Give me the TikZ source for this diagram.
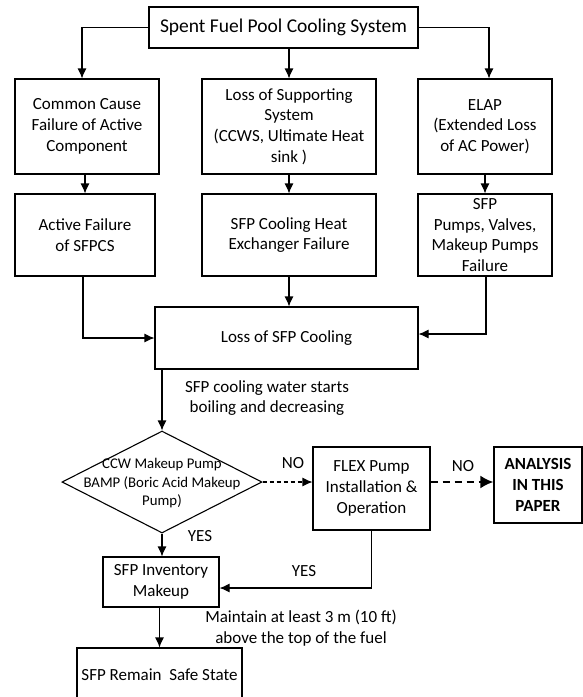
\documentclass[tikz,border=0pt]{standalone}
\usepackage{fontspec}
\setmainfont{Carlito}
\usetikzlibrary{arrows.meta,shapes.geometric}

\begin{document}
\begin{tikzpicture}
	[x=1pt,y=-1pt,line width=1.1pt,>={Latex[length=10pt,width=9pt]},
	 font=\fontsize{17}{20.7}\selectfont,
	 box/.style={draw,rectangle,align=center,inner sep=2pt},
	 dia/.style={draw,diamond,minimum width=200pt,minimum height=102pt,inner sep=0pt},
	 dtext/.style={font=\fontsize{14.8}{18.5}\selectfont,align=center}]
	\clip (0,0) rectangle (583,697);
	\node[box, minimum width=269pt, minimum height=41pt, font=\fontsize{19.5}{22}\selectfont] (top) at (283.5,27.5) {Spent Fuel Pool Cooling System};
	\node[box, minimum width=144pt, minimum height=95pt] (ccf) at (87,126.5) {Common Cause\\Failure of Active\\Component};
	\node[box, minimum width=174pt, minimum height=95pt] (sup) at (289,126.5) {Loss of Supporting\\System\\(CCWS, Ultimate Heat\\sink )};
	\node[box, minimum width=134pt, minimum height=95pt] (elap) at (485,126.5) {ELAP\\(Extended Loss\\of AC Power)};
	\node[box, minimum width=140pt, minimum height=82pt] (act) at (85,235) {Active Failure\\of SFPCS};
	\node[box, minimum width=174pt, minimum height=82pt] (hx) at (289,235) {SFP Cooling Heat\\Exchanger Failure};
	\node[box, minimum width=134pt, minimum height=82pt] (pumps) at (485,235) {SFP\\Pumps, Valves,\\Makeup Pumps\\Failure};
	\node[box, minimum width=263pt, minimum height=62pt] (loss) at (286.5,338) {Loss of SFP Cooling};
	\node (boil) at (267,398) [align=center] {SFP cooling water starts\\boiling and decreasing};
	\node[dia] (dmd) at (162,482) {};
	\node[dtext] (dmdtxt) at (162,483.5) {CCW Makeup Pump\\BAMP (Boric Acid Makeup\\Pump)};
	\node[box, minimum width=117pt, minimum height=83pt] (flex) at (371.5,488.5) {FLEX Pump\\Installation \&\\Operation};
	\node[box, minimum width=88pt, minimum height=76pt, font=\fontsize{17}{20.7}\selectfont\bfseries] (ana) at (538,485) {ANALYSIS\\IN THIS\\PAPER};
	\node[box, minimum width=116pt, minimum height=50pt] (inv) at (161,582) {SFP Inventory\\Makeup};
	\node (keep) at (301,628) [align=center] {Maintain at least 3 m (10 ft)\\above the top of the fuel};
	\node[box, minimum width=165pt, minimum height=54pt] (safe) at (159.5,675) {SFP Remain~ Safe State};
	\node (no1) at (293,463) {NO};
	\node (no2) at (463,466) {NO};
	\node (yes1) at (200,536) {YES};
	\node (yes2) at (304,571) {YES};
	
	\foreach \from/\to in {top/sup,ccf/act,sup/hx,elap/pumps,inv/safe}
		\draw[->] (\to.north |- \from.south) -- (\to.north);
	\draw[->] (top.west) -| ([xshift=-5pt]ccf.north);
	\draw[->] (top.east) -| ([xshift=4pt]elap.north);
	\draw[->] (hx.south) -- (hx.south |- loss.north);
	\draw[->] ([xshift=-2pt]act.south) |- (loss.west);
	\draw[->] ([xshift=1pt]pumps.south) |- ([yshift=4pt]loss.east);
	\draw[->] (loss.south -| dmd.north) -- (dmd.north);
	\draw[->] (dmd.south) -- (dmd.south |- inv.north);
	\draw[->,dash pattern=on 4pt off 3pt] (dmd.east) -- (dmd.east -| flex.west);
	\draw[-{Latex[length=13pt,width=13pt]},line width=2.5pt,dash pattern=on 7pt off 5pt] ([yshift=3pt]ana.west -| flex.east) -- ([yshift=3pt]ana.west);
	\draw[->] (flex.south) |- ([yshift=-6pt]inv.east);
\end{tikzpicture}
\end{document}
